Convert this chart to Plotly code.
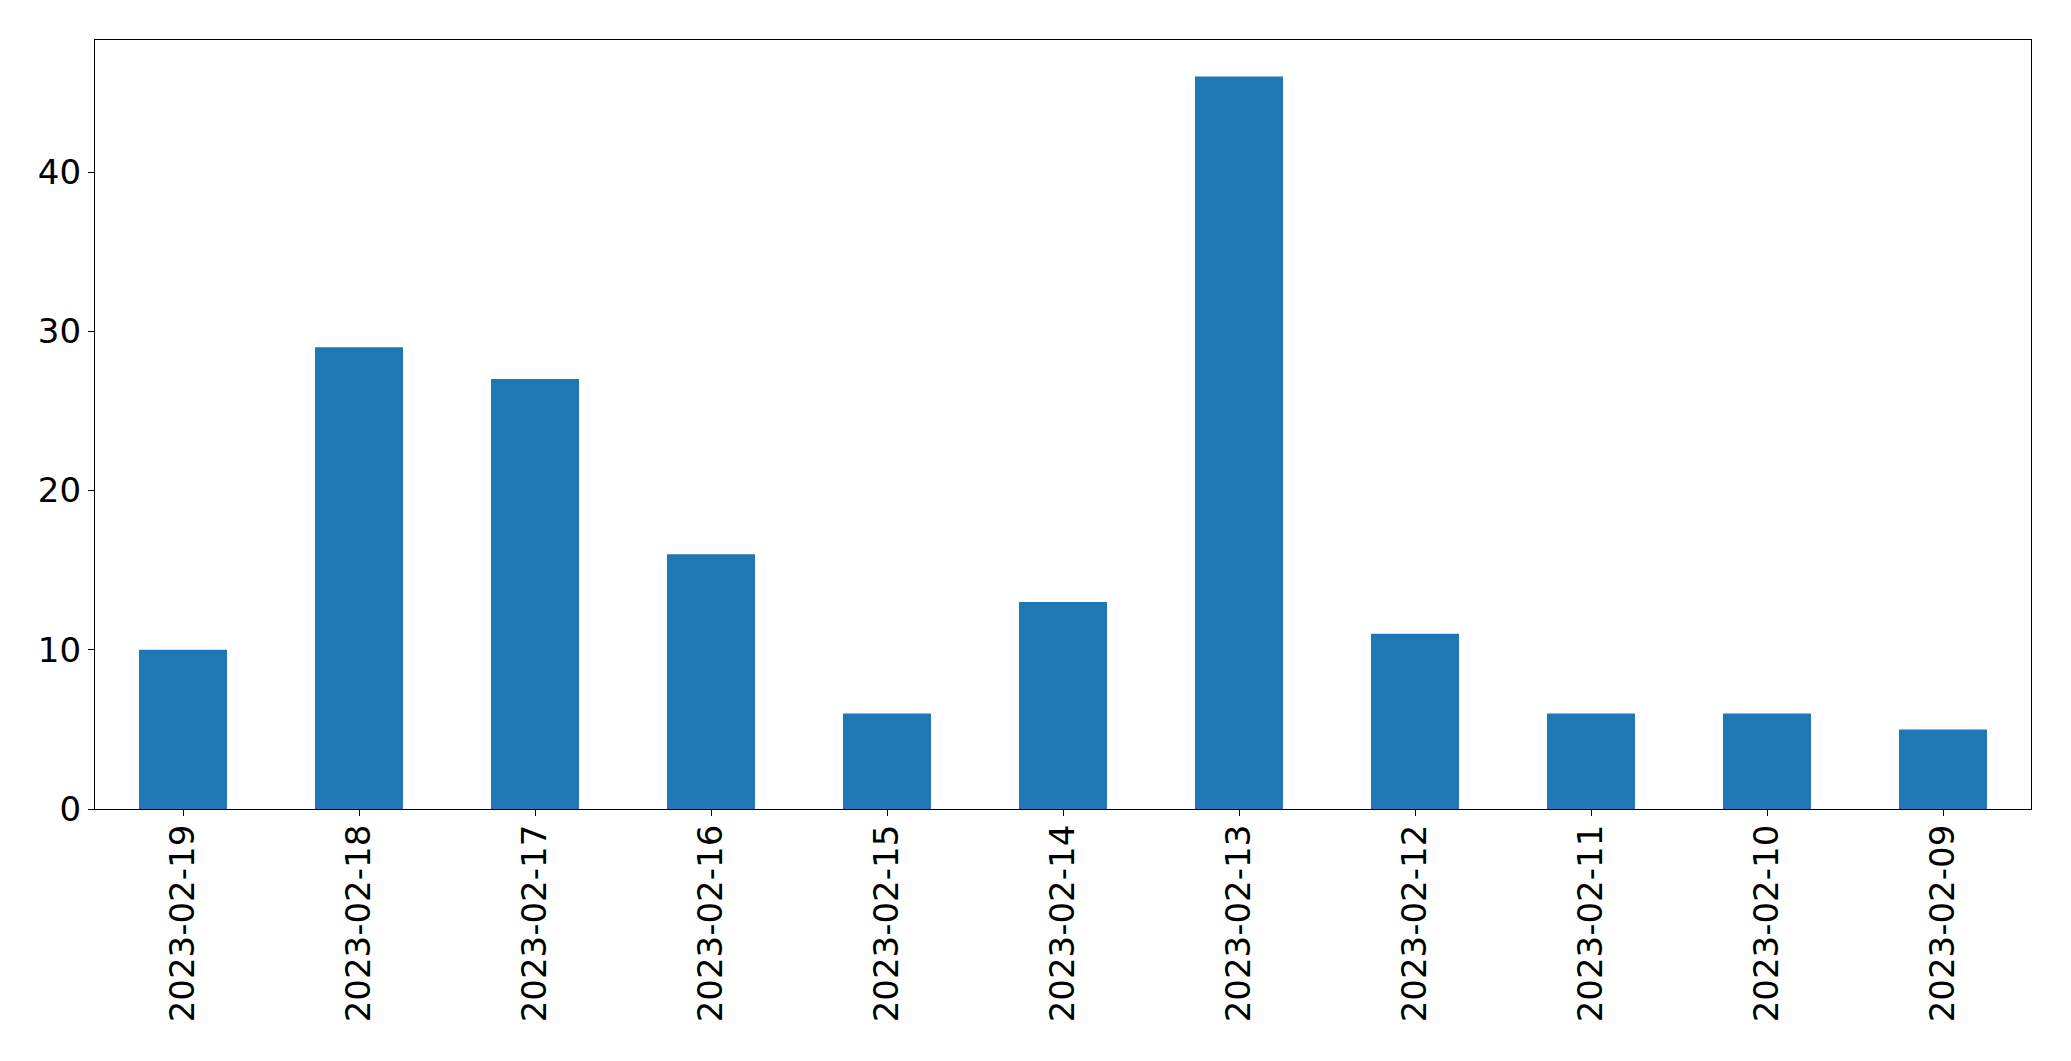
import plotly.graph_objects as go

dates = ["2023-02-19", "2023-02-18", "2023-02-17", "2023-02-16", "2023-02-15",
         "2023-02-14", "2023-02-13", "2023-02-12", "2023-02-11", "2023-02-10", "2023-02-09"]
counts = [10, 29, 27, 16, 6, 13, 46, 11, 6, 6, 5]
y_ticks = [0, 10, 20, 30, 40]

fig = go.Figure(go.Bar(x=dates, y=counts, width=0.5, marker=dict(color="#1f77b4", line=dict(width=0))))

font = dict(family="DejaVu Sans", size=34, color="black")
fig.update_layout(
    width=2055, height=1045,
    margin=dict(l=87, r=32, t=32, b=244),
    plot_bgcolor="white", paper_bgcolor="white",
    showlegend=False,
    font=font,
)
fig.update_xaxes(
    type="category", range=[-0.5, len(dates) - 0.5],
    tickangle=-90, ticks="outside", ticklen=6, tickwidth=1.3, tickcolor="black",
    showline=True, linecolor="black", linewidth=1.3, mirror=True,
    showgrid=False, zeroline=False, tickfont=font, ticklabelstandoff=-5,
)
fig.update_yaxes(
    range=[0, max(counts) * 1.05], tickvals=y_ticks,
    ticks="outside", ticklen=6, tickwidth=1.3, tickcolor="black",
    showline=True, linecolor="black", linewidth=1.3, mirror=True,
    showgrid=False, zeroline=False, tickfont=font,
)
fig.write_html("out.html")
